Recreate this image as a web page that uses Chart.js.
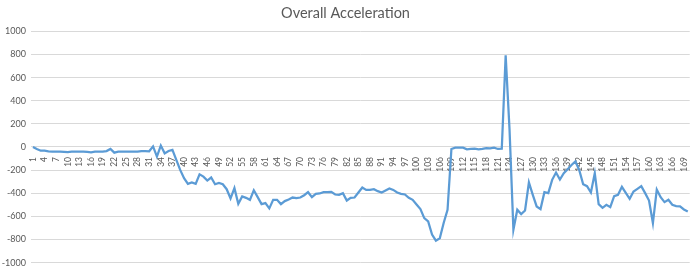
<!DOCTYPE html>
<html>
<head>
<meta charset="utf-8">
<script src="https://cdn.jsdelivr.net/npm/chart.js@4"></script>
<style>
  html, body { margin: 0; padding: 0; background: #fff; }
  #wrap { width: 700px; height: 273px; }
</style>
</head>
<body>
<div id="wrap"><canvas id="accelChart"></canvas></div>
<script>
// sample numbers 1..170 on the category axis
var samples = Array.from({ length: 170 }, (_, i) => i + 1);

// overall acceleration
var accel = [
    0, -17, -32, -32, -38, -40, -40, -40, -42, -45,
    -40, -40, -40, -40, -42, -46, -40, -40, -40, -35,
    -17, -49, -40, -40, -40, -40, -40, -40, -35, -35,
    -37, 5, -83, 12, -55, -35, -25, -112, -198, -270,
    -319, -307, -319, -236, -256, -290, -264, -322, -310, -322,
    -365, -445, -356, -491, -428, -440, -457, -374, -434, -494,
    -485, -531, -457, -457, -494, -468, -454, -437, -442, -437,
    -417, -391, -434, -405, -402, -391, -391, -388, -411, -414,
    -399, -463, -440, -437, -394, -351, -371, -371, -365, -382,
    -394, -376, -359, -371, -394, -405, -411, -440, -457, -497,
    -537, -615, -643, -758, -810, -790, -657, -543, -17, -6,
    -6, -6, -20, -17, -14, -20, -17, -9, -12, -6,
    -17, -14, 793, 150, -715, -543, -580, -549, -307, -414,
    -514, -537, -391, -399, -284, -221, -281, -227, -193, -155,
    -124, -201, -322, -339, -394, -227, -494, -526, -500, -520,
    -425, -414, -345, -397, -448, -385, -362, -339, -399, -463,
    -658, -368, -434, -477, -457, -500, -511, -514, -540, -557
];

var yTicks = [-1000, -800, -600, -400, -200, 0, 200, 400, 600, 800, 1000];

var textGrey = '#595959';
var gridGrey = '#d9d9d9';

var ctx = document.getElementById('accelChart').getContext('2d');
var accelChart = new Chart(ctx, {
    type: 'line',
    data: {
        labels: samples,
        datasets: [{
            label: 'Overall Acceleration',
            data: accel,
            borderColor: '#5b9bd5',
            borderWidth: 2.25,
            pointRadius: 0,
            tension: 0,
            fill: false
        }]
    },
    options: {
        responsive: true,
        maintainAspectRatio: false,
        animation: false,
        layout: {
            padding: { left: 0, right: 9, top: 0, bottom: 10 }
        },
        plugins: {
            legend: { display: false },
            tooltip: { enabled: false },
            title: {
                display: true,
                text: 'Overall Acceleration',
                color: textGrey,
                font: { family: 'Lato', size: 14.5, weight: 'normal' },
                padding: { top: 5, bottom: 9 }
            }
        },
        scales: {
            x: {
                type: 'category',
                position: { y: 0 },
                offset: true,
                grid: { display: false },
                border: { display: true, color: gridGrey, width: 1 },
                ticks: {
                    autoSkip: false,
                    minRotation: 90,
                    maxRotation: 90,
                    padding: 2,
                    color: textGrey,
                    font: { family: 'Lato', size: 8.5 },
                    callback: function (value, index) {
                        return index % 3 === 0 ? samples[index] : '';
                    }
                }
            },
            y: {
                min: -1000,
                max: 1000,
                afterFit: function (scale) { scale.width = 31; },
                afterBuildTicks: function (scale) {
                    scale.ticks = yTicks.map(v => ({ value: v }));
                },
                grid: { color: gridGrey, drawTicks: false },
                border: { display: false },
                ticks: {
                    padding: 5,
                    color: textGrey,
                    font: { family: 'Lato', size: 9 },
                    callback: function (value) { return String(value); }
                }
            }
        }
    }
});
</script>
</body>
</html>
